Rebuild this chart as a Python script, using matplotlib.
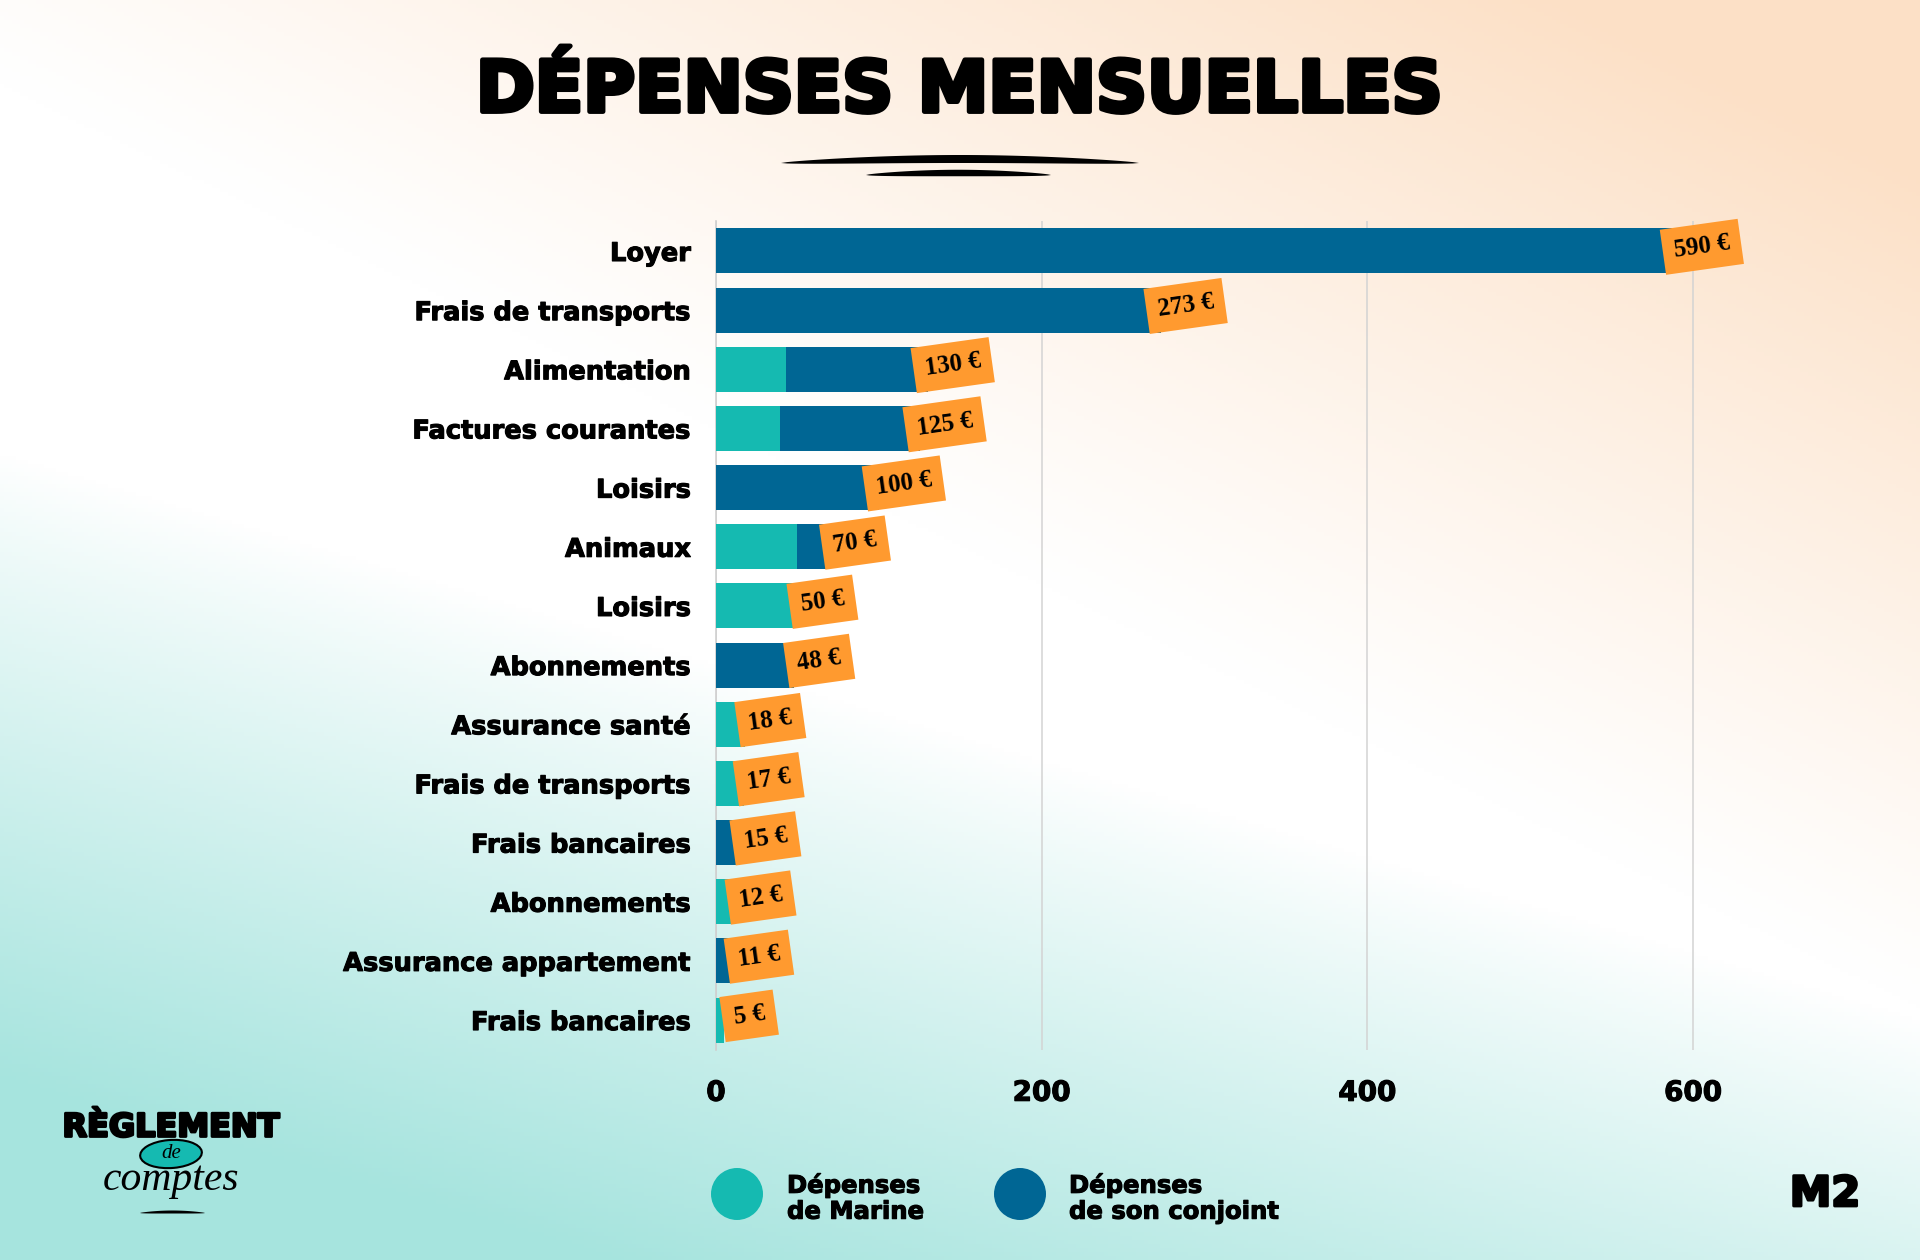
import numpy as np
import matplotlib
matplotlib.use("Agg")
import matplotlib.pyplot as plt
import matplotlib.patheffects as pe
from matplotlib.patches import Ellipse, Polygon

# ---------------- data ----------------
categories = ["Loyer", "Frais de transports", "Alimentation", "Factures courantes",
              "Loisirs", "Animaux", "Loisirs", "Abonnements", "Assurance santé",
              "Frais de transports", "Frais bancaires", "Abonnements",
              "Assurance appartement", "Frais bancaires"]
marine = [0, 0, 43, 39, 0, 50, 50, 0, 18, 17, 0, 12, 0, 5]
conjoint = [590, 273, 87, 86, 100, 20, 0, 48, 0, 0, 15, 0, 11, 0]
value_labels = ["590 €", "273 €", "130 €", "125 €", "100 €", "70 €", "50 €", "48 €",
                "18 €", "17 €", "15 €", "12 €", "11 €", "5 €"]
xticks = [0, 200, 400, 600]
title = "DÉPENSES MENSUELLES"
legend_labels = ["Dépenses\nde Marine", "Dépenses\nde son conjoint"]

TEAL = "#15BAB1"
BLUE = "#006694"
ORANGE = "#FF9A2F"
SANS = "DejaVu Sans"
HEAVY = [pe.withStroke(linewidth=0.8, foreground="black")]

W, H = 1920, 1260
fig = plt.figure(figsize=(W / 100, H / 100), dpi=100)

# ---------------- background gradient ----------------
bg = fig.add_axes([0, 0, 1, 1], zorder=-10)
u = np.linspace(0, 1, 480)[None, :]
v = np.linspace(0, 1, 315)[:, None]
white = np.array([1.0, 1.0, 1.0])
peach = np.array([252, 224, 198]) / 255.0
teal = np.array([166, 228, 222]) / 255.0
pw = np.clip(1.1 * u - 1.5 * v + 0.1, 0, 1) ** 1.1
tw = np.clip(2.0 * (v - 0.45) - 0.9 * (u - 0.2), 0, 1) ** 0.9
img = white[None, None, :] * np.ones((315, 480, 3))
img = img + pw[..., None] * (peach - white) + tw[..., None] * (teal - white)
img = np.clip(img, 0, 1)
bg.imshow(img, aspect="auto", extent=[0, 1, 0, 1], origin="upper")
bg.set_xlim(0, 1)
bg.set_ylim(0, 1)
bg.axis("off")

# ---------------- main axes ----------------
ax_left, ax_right = 716 / W, 1856 / W
ax_top, ax_bot = 221.4 / H, 1049.6 / H
ax = fig.add_axes([ax_left, 1 - ax_bot, ax_right - ax_left, ax_bot - ax_top])
ax.set_facecolor("none")

y = np.arange(len(categories))
marine_a = np.array(marine)
conj_a = np.array(conjoint)
ax.barh(y, marine_a, height=0.76, color=TEAL, zorder=3)
ax.barh(y, conj_a, left=marine_a, height=0.76, color=BLUE, zorder=3)

ax.set_xlim(0, 700)
ax.set_ylim(len(categories) - 0.5, -0.5)
ax.set_xticks(xticks)
ax.set_xticklabels([str(t) for t in xticks])
ax.set_yticks(y)
ax.set_yticklabels(categories)
ax.tick_params(axis="both", length=0)
ax.tick_params(axis="y", pad=18)
ax.tick_params(axis="x", pad=21)
for lab in ax.get_yticklabels():
    lab.set_fontfamily(SANS)
    lab.set_fontweight("bold")
    lab.set_fontsize(18.5)
    lab.set_path_effects(HEAVY)
for lab in ax.get_xticklabels():
    lab.set_fontfamily(SANS)
    lab.set_fontweight("bold")
    lab.set_fontsize(20)
    lab.set_path_effects(HEAVY)
for s in ["top", "right", "bottom"]:
    ax.spines[s].set_visible(False)
ax.spines["left"].set_color("#cfcfcf")
ax.spines["left"].set_linewidth(1.2)
ax.grid(axis="x", color="#d3d3d3", linewidth=1.1, zorder=0)
ax.grid(axis="y", visible=False)

totals = marine_a + conj_a
for i, (tot, lab) in enumerate(zip(totals, value_labels)):
    ax.annotate(lab, xy=(tot, i), xytext=(18, 3), textcoords="offset points",
                ha="center", va="center", rotation=8, fontsize=18,
                family="Liberation Serif", fontweight="bold",
                color="black", zorder=6,
                bbox=dict(boxstyle="square,pad=0.45", fc=ORANGE, ec="none"))

# ---------------- title ----------------
fig.text(0.5, 1 - 92 / H, title, ha="center", va="center", fontsize=51,
         family=SANS, fontweight="bold", color="black",
         path_effects=[pe.withStroke(linewidth=3.5, foreground="black")])

def stroke(x0, x1, yc, thick, tilt=0.0):
    xs = np.linspace(x0, x1, 60)
    t = np.linspace(0, 1, 60)
    half = thick / 2 * np.sin(np.pi * t) ** 0.6
    yc_line = yc - tilt * np.sin(np.pi * t)
    top = np.column_stack([xs / W, 1 - (yc_line - half) / H])
    bot = np.column_stack([xs[::-1] / W, 1 - (yc_line[::-1] + half[::-1]) / H])
    pts = np.vstack([top, bot])
    fig.add_artist(Polygon(pts, closed=True, transform=fig.transFigure,
                           fc="black", ec="none"))

stroke(781, 1139, 163, 8, tilt=4)
stroke(866, 1051, 175, 6.5, tilt=2)

# ---------------- legend ----------------
for cx, col, tx, lab in [(737, TEAL, 787, legend_labels[0]),
                         (1020, BLUE, 1069, legend_labels[1])]:
    fig.add_artist(Ellipse((cx / W, 1 - 1194 / H), 52 / W, 52 / H,
                           transform=fig.transFigure, fc=col, ec="none"))
    fig.text(tx / W, 1 - 1198 / H, lab, ha="left", va="center", fontsize=17.5,
             family=SANS, fontweight="bold", linespacing=1.1,
             color="black", path_effects=HEAVY)

# ---------------- logos ----------------
fig.text(171 / W, 1 - 1128 / H, "RÈGLEMENT", ha="center", va="center",
         fontsize=23, family=SANS, fontweight="bold", color="black",
         path_effects=[pe.withStroke(linewidth=2, foreground="black")])
fig.add_artist(Ellipse((171 / W, 1 - 1154 / H), 62 / W, 28 / H, angle=8,
                       transform=fig.transFigure, fc=TEAL, ec="black", lw=1.5))
fig.text(171 / W, 1 - 1153 / H, "de", ha="center", va="center", fontsize=15,
         family="Liberation Serif", fontstyle="italic", color="black")
fig.text(171 / W, 1 - 1180 / H, "comptes", ha="center", va="center",
         fontsize=30, family="Liberation Serif", fontstyle="italic", color="black")
stroke(140, 205, 1213, 3, tilt=1)
fig.text(1825 / W, 1 - 1194 / H, "M2", ha="center", va="center", fontsize=30,
         family=SANS, fontweight="bold", color="black",
         path_effects=[pe.withStroke(linewidth=2, foreground="black")])

fig.savefig("out.png", dpi=100)
